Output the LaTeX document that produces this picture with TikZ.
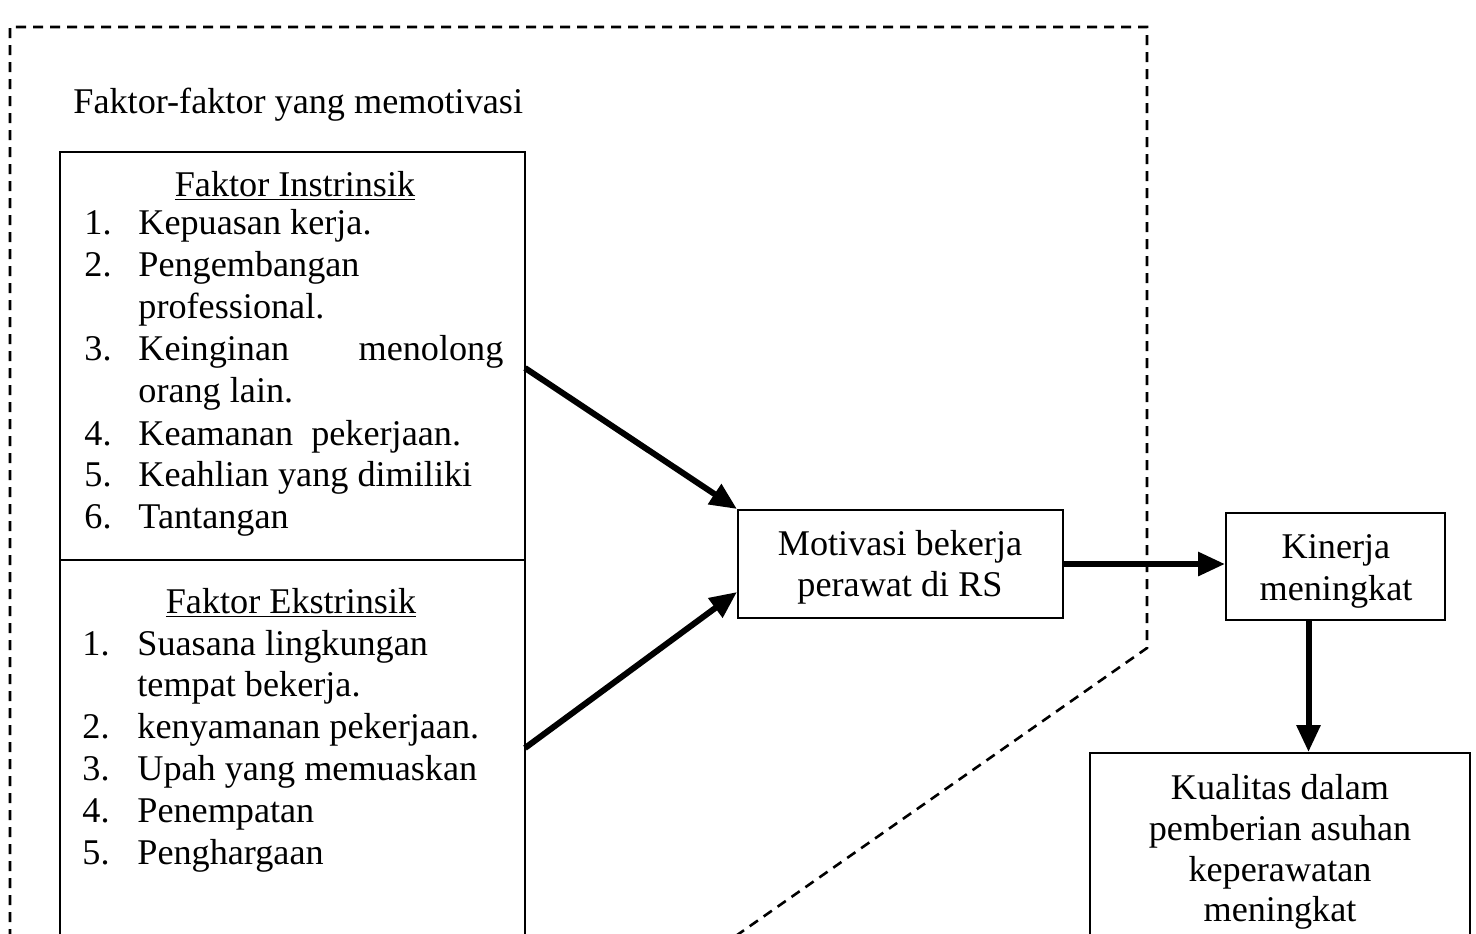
\documentclass[tikz,border=0pt]{standalone}
\usepackage{fontspec}
\setmainfont{Liberation Serif}
\usetikzlibrary{arrows.meta,calc}
\begin{document}
\begin{tikzpicture}[x=0.5pt,y=-0.5pt,
  txt/.style={inner sep=0pt, font=\fontsize{18.1}{21}\selectfont},
  ctxt/.style={txt, align=center},
  boxline/.style={draw, line width=1pt},
  boundary/.style={line width=1.3pt, dash pattern=on 5pt off 3.5pt},
  bigarrow/.style={line width=3pt, -{Triangle[length=13.5pt,width=11.5pt]}}
]
\useasboundingbox (0,0) rectangle (1476,933);
\clip (0,0) rectangle (1476,933);
\fill[white] (0,0) rectangle (1476,933);

% dashed boundary
\draw[boundary] (10,990) -- (10,27) -- (1147,27) -- (1147,648) -- (700,961);

\node[txt, anchor=base west] (title) at (73,113) {Faktor-faktor yang memotivasi};

% left box
\draw[boxline] (60,152) rectangle (525,990);
\draw[boxline] (60,560) -- (525,560);

\node[txt, anchor=base] (hin) at (295,196) {\underline{Faktor Instrinsik}};
\node[txt, anchor=base west] (n1) at (84,234) {1.};
\node[txt, anchor=base west] (t1) at (138,234) {Kepuasan kerja.};
\node[txt, anchor=base west] (n2) at (84,276) {2.};
\node[txt, anchor=base west] (t2) at (138,276) {Pengembangan};
\node[txt, anchor=base west] (t2b) at (138,318) {professional.};
\node[txt, anchor=base west] (n3) at (84,360) {3.};
\node[txt, anchor=base west] (t3) at (138,360) {\hbox to 182.5pt{Keinginan\hfill menolong}};
\node[txt, anchor=base west] (t3b) at (138,402) {orang lain.};
\node[txt, anchor=base west] (n4) at (84,445) {4.};
\node[txt, anchor=base west] (t4) at (138,445) {Keamanan\ \ pekerjaan.};
\node[txt, anchor=base west] (n5) at (84,486) {5.};
\node[txt, anchor=base west] (t5) at (138,486) {Keahlian yang dimiliki};
\node[txt, anchor=base west] (n6) at (84,528) {6.};
\node[txt, anchor=base west] (t6) at (138,528) {Tantangan};

\node[txt, anchor=base] (hek) at (291,613) {\underline{Faktor Ekstrinsik}};
\node[txt, anchor=base west] (m1) at (82,655) {1.};
\node[txt, anchor=base west] (s1) at (137,655) {Suasana lingkungan};
\node[txt, anchor=base west] (s1b) at (137,696) {tempat bekerja.};
\node[txt, anchor=base west] (m2) at (82,738) {2.};
\node[txt, anchor=base west] (s2) at (137,738) {kenyamanan pekerjaan.};
\node[txt, anchor=base west] (m3) at (82,780) {3.};
\node[txt, anchor=base west] (s3) at (137,780) {Upah yang memuaskan};
\node[txt, anchor=base west] (m4) at (82,822) {4.};
\node[txt, anchor=base west] (s4) at (137,822) {Penempatan};
\node[txt, anchor=base west] (m5) at (82,864) {5.};
\node[txt, anchor=base west] (s5) at (137,864) {Penghargaan};

\coordinate (inout) at (525,368);
\coordinate (exout) at (525,748);

% Motivasi
\node[boxline, minimum width=162.5pt, minimum height=54pt, inner sep=0pt] (mot) at (900.5,564) {};
\node[ctxt, anchor=base] (motA) at (900,555) {Motivasi bekerja};
\node[ctxt, anchor=base] (motB) at (900,596) {perawat di RS};

% Kinerja
\node[boxline, minimum width=109.5pt, minimum height=53.5pt, inner sep=0pt] (kin) at (1335.5,566.5) {};
\node[ctxt, anchor=base] (kinA) at (1336,558) {Kinerja};
\node[ctxt, anchor=base] (kinB) at (1336,600) {meningkat};

% Kualitas
\node[boxline, minimum width=190pt, minimum height=120pt, inner sep=0pt, anchor=north] (kual) at (1280,752) {};
\node[ctxt, anchor=base] (kuA) at (1280,799) {Kualitas dalam};
\node[ctxt, anchor=base] (kuB) at (1280,840) {pemberian asuhan};
\node[ctxt, anchor=base] (kuC) at (1280,881) {keperawatan};
\node[ctxt, anchor=base] (kuD) at (1280,921) {meningkat};

% arrows
\draw[bigarrow] (inout) -- (mot.north west);
\draw[bigarrow] (exout) -- ($(mot.west)+(0,28)$);
\draw[bigarrow] (mot.east) -- (mot.east -| kin.west);
\coordinate (kdown) at ($(kin.south)+(-27,0)$);
\draw[bigarrow] (kdown) -- (kdown |- kual.north);
\end{tikzpicture}
\end{document}
